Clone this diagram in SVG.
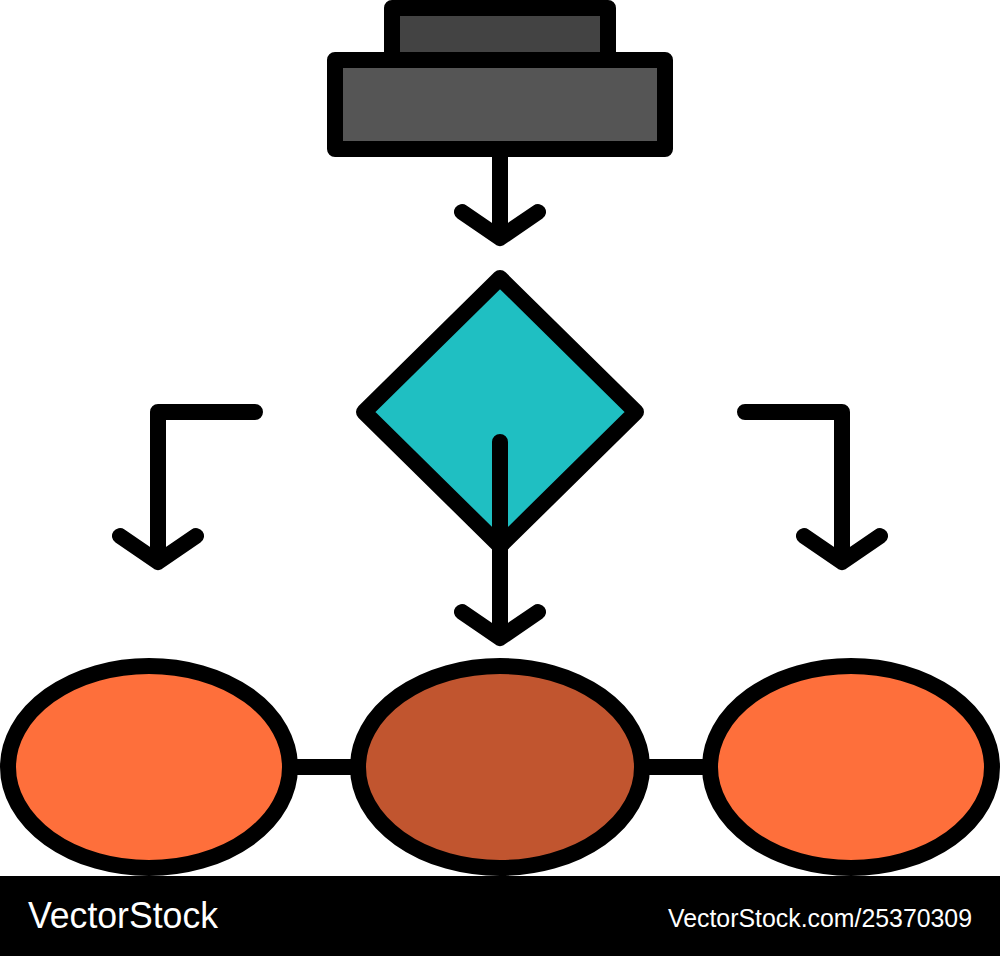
<svg xmlns="http://www.w3.org/2000/svg" width="1000" height="956" viewBox="0 0 1000 956">
  <style>
    .s { stroke: #000; stroke-width: 16; stroke-linecap: round; stroke-linejoin: round; fill: none; }
    .n { stroke: #000; stroke-width: 16; stroke-linejoin: round; }
    .wm { fill: #fff; font-family: "Liberation Sans Narrow", "Liberation Sans", Arial, sans-serif; }
  </style>
  <rect width="1000" height="956" fill="#fff"/>
  <g id="start">
    <rect class="n" x="392" y="8" width="216" height="52" fill="#434343"/>
    <rect class="n" x="335" y="60" width="330" height="89" fill="#555555"/>
  </g>
  <g id="decision">
    <polygon class="n" points="500,278 636,412 500,546 364,412" fill="#1FBFC2"/>
  </g>
  <g id="node-left">
    <ellipse class="n" cx="149" cy="767" rx="141" ry="101" fill="#FE6F3B"/>
  </g>
  <g id="node-center">
    <ellipse class="n" cx="500" cy="767" rx="142" ry="101" fill="#C1552F"/>
  </g>
  <g id="node-right">
    <ellipse class="n" cx="851" cy="767" rx="141" ry="101" fill="#FE6F3B"/>
  </g>
  <g id="connectors">
    <path class="s" d="M500,157 V238 M462,212 L500,238 L538,212"/>
    <path class="s" d="M500,442 V638 M462,612 L500,638 L538,612"/>
    <path class="s" d="M255,412 H158 V562 M120,536 L158,562 L196,536"/>
    <path class="s" d="M745,412 H842 V562 M804,536 L842,562 L880,536"/>
    <line x1="290" y1="767" x2="358" y2="767" stroke="#000" stroke-width="16"/>
    <line x1="642" y1="767" x2="710" y2="767" stroke="#000" stroke-width="16"/>
  </g>
  <rect x="0" y="876" width="1000" height="80" fill="#000"/>
  <text class="wm" x="28" y="928" font-size="36" textLength="190" lengthAdjust="spacingAndGlyphs">VectorStock</text>
  <text class="wm" x="668" y="927" font-size="25" textLength="304" lengthAdjust="spacingAndGlyphs">VectorStock.com/25370309</text>
</svg>
